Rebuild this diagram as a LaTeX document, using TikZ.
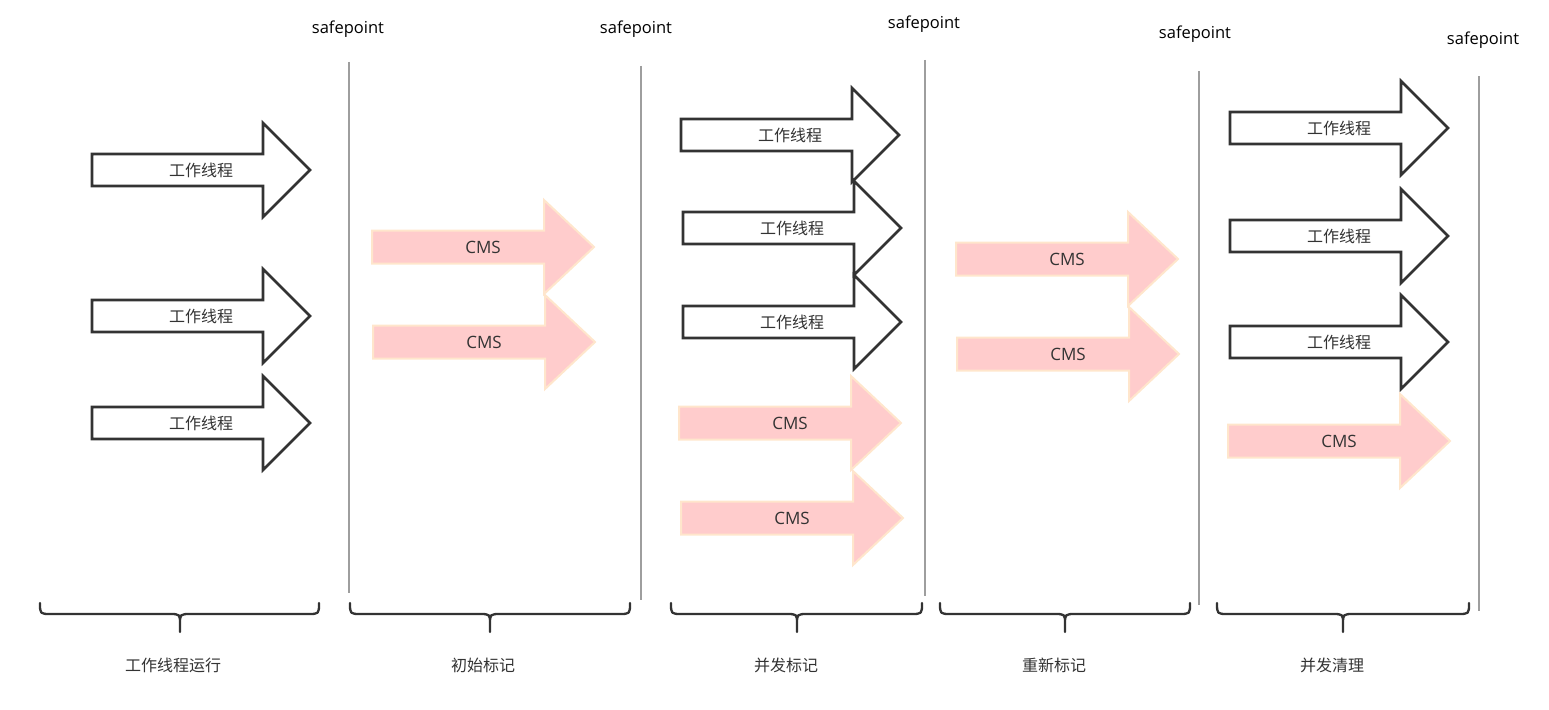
\documentclass[tikz,border=0pt]{standalone}
\usepackage{fontspec}
\setmainfont{Open Sans}
\newfontfamily\cjk{Noto Sans CJK SC}
\definecolor{ink}{HTML}{333333}
\definecolor{cmsfill}{HTML}{FFCCCC}
\definecolor{cmsline}{HTML}{FFE6CC}
\definecolor{sep}{HTML}{9E9E9E}
\tikzset{
  workarrow/.style={draw=ink, line width=2.6pt, fill=white, line join=miter},
  cmsarrow/.style={draw=cmsline, line width=2pt, fill=cmsfill, line join=miter},
  lbl/.style={text=ink, font=\fontsize{16}{19}\selectfont, inner sep=0pt},
  cmslbl/.style={text=ink, font=\fontsize{17}{20}\selectfont, inner sep=0pt},
  sp/.style={text=black, font=\fontsize{16.5}{19}\selectfont, inner sep=0pt},
  phase/.style={text=ink, font=\cjk\fontsize{16}{19}\selectfont, inner sep=0pt},
  sepline/.style={draw=sep, line width=1.3pt},
  bracestyle/.style={draw=ink, line width=2.3pt, line cap=round, line join=round}
}
% #1 name, #2 style, #3 left x, #4 tip x, #5 centre y, #6 head length, #7 half body, #8 label style, #9 text
\newcommand\bigarrow[9]{%
  \path[#2] (#3,{#5-#7}) -- ({#4-#6},{#5-#7}) -- ({#4-#6},{#5-47}) -- (#4,#5)
     -- ({#4-#6},{#5+47}) -- ({#4-#6},{#5+#7}) -- (#3,{#5+#7}) -- cycle;
  \node[#8] (#1) at ({(#3+#4)/2},#5) {#9};}
\newcommand\workarr[4]{\bigarrow{#1}{workarrow}{#2}{#3}{#4}{47}{16}{lbl}{\cjk 工作线程}}
\newcommand\cmsarr[4]{\bigarrow{#1}{cmsarrow}{#2}{#3}{#4}{50}{16.5}{cmslbl}{CMS}}
% #1 name, #2 left, #3 right, #4 centre, #5 label x, #6 text
\newcommand\phasebrace[6]{%
  \path[bracestyle] (#2,603) .. controls (#2,614) .. ({#2+11},614) -- ({#4-11},614)
     .. controls (#4,614) .. (#4,624) -- (#4,632) -- (#4,624)
     .. controls (#4,614) .. ({#4+11},614) -- ({#3-11},614)
     .. controls (#3,614) .. (#3,603);
  \node[phase] (#1) at (#5,665) {#6};}
\begin{document}
\begin{tikzpicture}[x=1pt,y=-1pt]
\useasboundingbox (0,0) rectangle (1549,709);
% separators
\draw[sepline] (349,62) coordinate (s1t) -- (349,593) coordinate (s1b);
\draw[sepline] (641,66) coordinate (s2t) -- (641,600) coordinate (s2b);
\draw[sepline] (925,60) coordinate (s3t) -- (925,596) coordinate (s3b);
\draw[sepline] (1199,71) coordinate (s4t) -- (1199,605) coordinate (s4b);
\draw[sepline] (1479,76) coordinate (s5t) -- (1479,611) coordinate (s5b);
% safepoint labels
\node[sp] (sp1) at (348,29) {safepoint};
\node[sp] (sp2) at (636,29) {safepoint};
\node[sp] (sp3) at (924,24) {safepoint};
\node[sp] (sp4) at (1195,34) {safepoint};
\node[sp] (sp5) at (1483,40) {safepoint};
% column 1
\workarr{a11}{92}{310}{170}
\workarr{a12}{92}{310}{316}
\workarr{a13}{92}{310}{423}
% column 2
\cmsarr{a21}{372}{594}{247}
\cmsarr{a22}{373}{595}{342}
% column 3
\workarr{a31}{681}{899}{135}
\workarr{a32}{683}{901}{228}
\workarr{a33}{683}{901}{322}
\cmsarr{a34}{679}{901}{423}
\cmsarr{a35}{681}{903}{518}
% column 4
\cmsarr{a41}{956}{1178}{259}
\cmsarr{a42}{957}{1179}{354}
% column 5
\workarr{a51}{1230}{1448}{128}
\workarr{a52}{1230}{1448}{236}
\workarr{a53}{1230}{1448}{342}
\cmsarr{a54}{1228}{1450}{441}
% braces and phase labels
\phasebrace{p1}{40}{319}{180}{173}{工作线程运行}
\phasebrace{p2}{350}{630}{490}{483}{初始标记}
\phasebrace{p3}{671}{922}{797}{786}{并发标记}
\phasebrace{p4}{940}{1190}{1065}{1054}{重新标记}
\phasebrace{p5}{1217}{1469}{1343}{1332}{并发清理}
\end{tikzpicture}
\end{document}
